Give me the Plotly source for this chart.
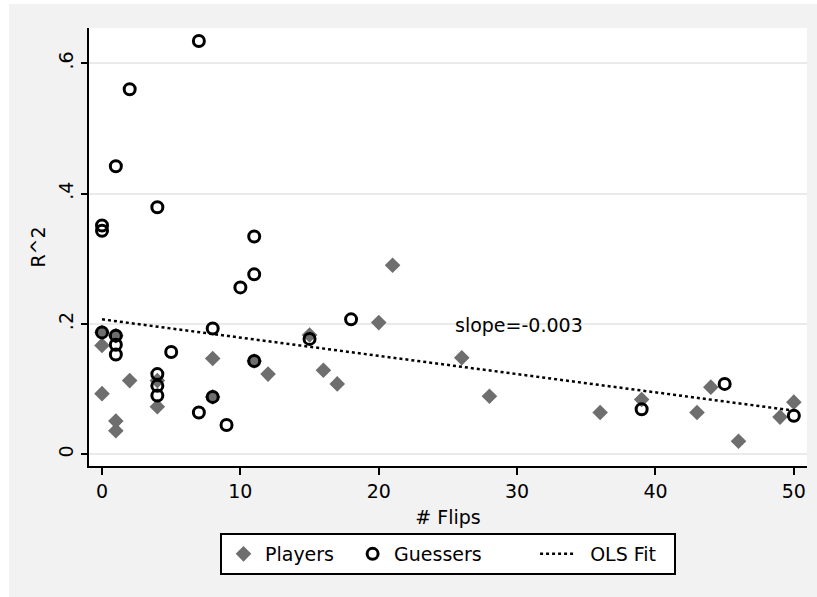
import plotly.graph_objects as go
import numpy as np

# Players (diamonds)
players_x = [0, 0, 0, 1, 1, 1, 2, 4, 4, 8, 8, 11, 12, 15, 16, 17, 20, 21, 26, 28,
             36, 39, 43, 44, 46, 49, 50]
players_y = [0.187, 0.167, 0.093, 0.182, 0.051, 0.036, 0.113, 0.113, 0.073, 0.147, 0.088,
             0.143, 0.123, 0.183, 0.129, 0.108, 0.202, 0.290, 0.148, 0.089,
             0.064, 0.084, 0.064, 0.103, 0.020, 0.057, 0.080]

# Guessers (hollow circles)
guessers_x = [0, 0, 0, 1, 1, 1, 1, 2, 4, 4, 4, 4, 5, 7, 7, 8, 8, 9, 10, 11, 11, 11,
              15, 18, 39, 45, 50]
guessers_y = [0.187, 0.351, 0.343, 0.442, 0.182, 0.168, 0.153, 0.560, 0.379, 0.123, 0.105,
              0.090, 0.157, 0.634, 0.064, 0.193, 0.088, 0.045, 0.256, 0.334, 0.276, 0.143,
              0.177, 0.207, 0.069, 0.108, 0.059]

# OLS fit
fit_intercept = 0.207
fit_slope = -0.0028
fit_x = [0, 50]
slope_label = "slope=-0.003"
label_pos = (25.4, 0.199)

y_tickvals = [0, 0.2, 0.4, 0.6]
y_ticktext = ["0", ".2", ".4", ".6"]
x_tickvals = [0, 10, 20, 30, 40, 50]

FONT = "DejaVu Sans"
NB = "\u00a0"

fig = go.Figure()
fig.add_trace(go.Scatter(
    x=players_x, y=players_y, mode="markers", name="Players" + NB * 2,
    marker=dict(symbol="diamond", size=12, color="#6e6e6e", line=dict(width=0)),
))
fig.add_trace(go.Scatter(
    x=guessers_x, y=guessers_y, mode="markers", name="Guessers" + NB * 8,
    marker=dict(symbol="circle-open", size=11, color="black", line=dict(width=3, color="black")),
))
fx = np.array(fit_x, dtype=float)
fig.add_trace(go.Scatter(
    x=fx, y=fit_intercept + fit_slope * fx, mode="lines", name=NB * 2 + "OLS Fit" + NB * 2,
    line=dict(color="black", width=2.5, dash="3px,3px"),
))

fig.add_annotation(x=label_pos[0], y=label_pos[1], text=slope_label, showarrow=False,
                   xanchor="left", yanchor="middle", font=dict(family=FONT, size=19, color="black"))

L, R, T, B = 89, 10, 28, 131
W, H = 817, 597
pw, ph = W - L - R, H - T - B
# thin white strips at the left and top edges (outside the plot area)
fig.add_shape(type="rect", xref="paper", yref="paper", layer="above",
              x0=-L / pw, x1=(9 - L) / pw, y0=-B / ph, y1=1 + T / ph,
              fillcolor="white", line=dict(width=0))
fig.add_shape(type="rect", xref="paper", yref="paper", layer="above",
              x0=-L / pw, x1=1 + R / pw, y0=1 + (T - 4) / ph, y1=1 + T / ph,
              fillcolor="white", line=dict(width=0))

fig.update_layout(
    width=W, height=H,
    margin=dict(l=L, r=R, t=T, b=B, autoexpand=False),
    paper_bgcolor="#f2f2f2", plot_bgcolor="white",
    font=dict(family=FONT, size=19, color="black"),
    showlegend=True,
    legend=dict(orientation="h", x=0.5, xanchor="center", y=-0.153, yanchor="top",
                bgcolor="white", bordercolor="black", borderwidth=2,
                font=dict(family=FONT, size=19), itemwidth=33, traceorder="normal"),
    xaxis=dict(range=[-0.94, 50.95], tickvals=x_tickvals, showgrid=False, zeroline=False,
               showline=True, linecolor="black", linewidth=2, ticks="outside",
               ticklen=7, tickwidth=2, tickcolor="black", automargin=False,
               title=dict(text="# Flips", font=dict(size=19), standoff=10)),
    yaxis=dict(range=[-0.018, 0.654], tickvals=y_tickvals, ticktext=y_ticktext,
               tickangle=-90, showgrid=True, gridcolor="#eaeaea", gridwidth=2,
               zeroline=False, showline=True, linecolor="black", linewidth=2,
               ticks="outside", ticklen=6, tickwidth=2, tickcolor="black", automargin=False,
               title=dict(text="R^2", font=dict(size=19), standoff=5)),
)

fig.write_html("out.html", config={"displayModeBar": False},
               post_script="document.body.style.margin='0';")
